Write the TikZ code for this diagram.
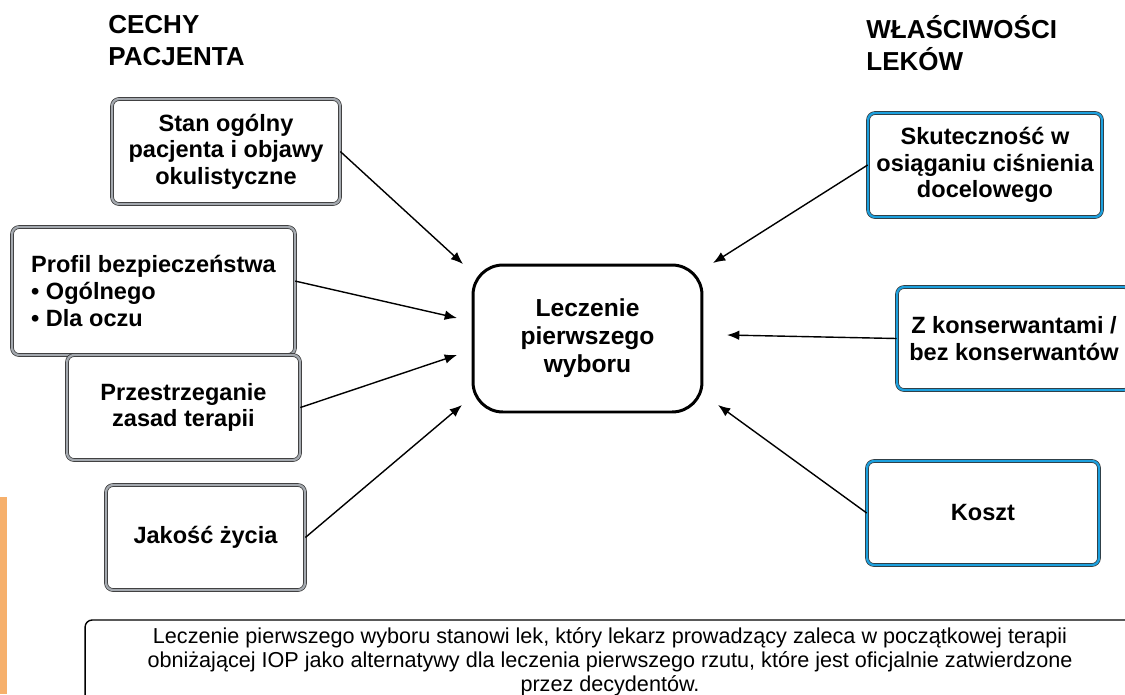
\documentclass[tikz,border=0pt]{standalone}
\usepackage{fontspec}
\setmainfont{Liberation Sans}
\usetikzlibrary{arrows.meta,positioning}
\definecolor{frame}{RGB}{125,132,140}
\definecolor{lblue}{RGB}{28,160,222}
\definecolor{barorange}{RGB}{246,176,108}

\begin{document}
\begin{tikzpicture}[% pixel units, y grows downwards
			x=0.02cm,y=-0.02cm,
			every node/.style={
				align=center,  		% "\\" breaks lines
				font=\bfseries\fontsize{13.4}{15}\selectfont
			},
			patient/.style={rectangle,rounded corners=4pt,draw=black!80,line width=0.4pt,double=frame!70,double distance=1.3pt,fill=white,inner sep=2pt},
			drug/.style={patient,double=lblue},
			choice/.style={rectangle,rounded corners=17pt,draw=black,line width=1.7pt,minimum width=4.58cm,minimum height=2.94cm,font=\bfseries\fontsize{14}{16}\selectfont},
			heading/.style={align=left,anchor=north west,inner sep=0pt,font=\bfseries\fontsize{14.8}{18.2}\selectfont},
			note/.style={rectangle,rounded corners=4pt,draw=black,line width=0.8pt,font=\fontsize{12.3}{13.7}\selectfont},
			every edge/.style={draw,line width=0.8pt},
			>={Latex[length=7pt,width=5.5pt]}
		]
		\useasboundingbox (0,0) rectangle (1125,694);
		\fill[barorange] (0,497) rectangle (7,694);

		% headings
		\node[heading](H1) at (108,15){CECHY\\PACJENTA};
		\node[heading](H2) at (866,15){WŁAŚCIWOŚCI\\LEKÓW};

		% patient side
		\node[patient,minimum width=4.56cm,minimum height=2.1cm](Stan) at (226,151.5){Stan ogólny\\pacjenta i objawy\\okulistyczne};
		\node[patient,minimum width=5.66cm,minimum height=2.56cm,align=left,font=\bfseries\fontsize{13.4}{15.4}\selectfont](Profil) at (153.5,291){Profil bezpieczeństwa\\• Ogólnego\\• Dla oczu};
		\node[patient,minimum width=4.66cm,minimum height=2.1cm](Przes) at (183.5,407.5){Przestrzeganie\\zasad terapii};
		\node[patient,minimum width=3.98cm,minimum height=2.1cm](Jakosc) at (205.5,537.5){Jakość życia};

		% drug side
		\node[drug,minimum width=4.68cm,minimum height=2.08cm](Skut) at (985,165){Skuteczność w\\osiąganiu ciśnienia\\docelowego};
		\node[drug,minimum width=4.68cm,minimum height=2.06cm](Kons) at (1014,338.5){Z konserwantami /\\bez konserwantów};
		\node[drug,minimum width=4.64cm,minimum height=2.08cm](Koszt) at (983,513){Koszt};

		% centre
		\node[choice](Lecz) at (587.5,338.5){Leczenie\\pierwszego\\wyboru};

		\node[note,minimum width=21cm,minimum height=1.68cm](Note) at (610,662){Leczenie pierwszego wyboru stanowi lek, który lekarz prowadzący zaleca w początkowej terapii\\obniżającej IOP jako alternatywy dla leczenia pierwszego rzutu, które jest oficjalnie zatwierdzone\\przez decydentów.};

		% arrow tips, just off the centre box
		\coordinate (tStan) at (463,264);
		\coordinate (tProfil) at (457,318);
		\coordinate (tPrzes) at (457,355);
		\coordinate (tJakosc) at (462,405);
		\coordinate (tSkut) at (713,263);
		\coordinate (tKons) at (727,335);
		\coordinate (tKoszt) at (718,405);

		\path[->]
		(Stan.east)edge []	node [] {} (tStan)
		(Profil.4)edge []	node [] {} (tProfil)
		(Przes.east)edge []	node [] {} (tPrzes)
		(Jakosc.east)edge []	node [] {} (tJakosc)
		(Skut.west)edge []	node [] {} (tSkut)
		(Kons.west)edge []	node [] {} (tKons)
		(Koszt.west)edge []	node [] {} (tKoszt)
		;
	\end{tikzpicture}
\end{document}
